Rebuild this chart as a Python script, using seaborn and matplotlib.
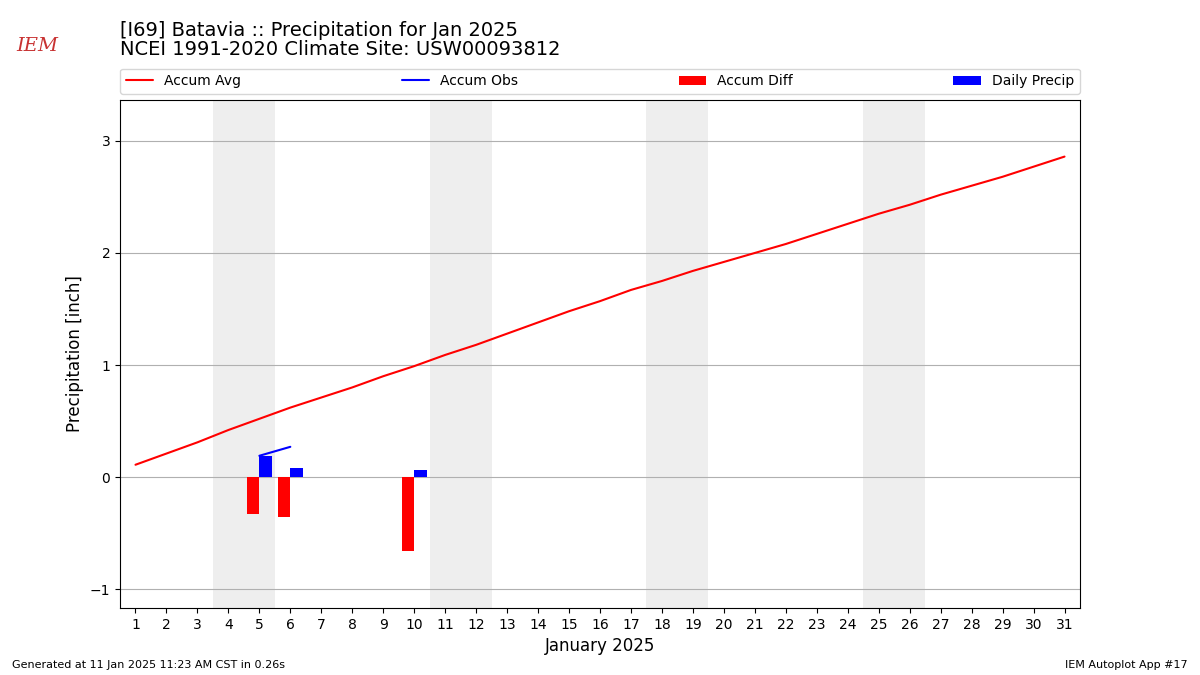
import numpy as np
import pandas as pd
import matplotlib
matplotlib.use("Agg")
import matplotlib.pyplot as plt
import seaborn as sns

# data
days = list(range(1, 32))
accum_avg = [0.11, 0.21, 0.31, 0.42, 0.52, 0.62, 0.71, 0.80, 0.90, 0.99,
             1.09, 1.18, 1.28, 1.38, 1.48, 1.57, 1.67, 1.75, 1.84, 1.92,
             2.00, 2.08, 2.17, 2.26, 2.35, 2.43, 2.52, 2.60, 2.68, 2.77, 2.86]
obs_days = [5, 6]
accum_obs = [0.19, 0.27]
diff_days = [5, 6, 10]
accum_diff = [-0.33, -0.36, -0.66]
precip_days = [5, 6, 10]
daily_precip = [0.19, 0.08, 0.06]
weekend_days = [4, 5, 11, 12, 18, 19, 25, 26]

sns.set_style("ticks")
plt.rcParams.update({"text.color": "black", "axes.labelcolor": "black",
                     "xtick.color": "black", "ytick.color": "black",
                     "patch.edgecolor": "none"})

fig = plt.figure(figsize=(12, 6.75), dpi=100)
ax = fig.add_axes([0.1, 0.099, 0.8, 0.753])

for d in weekend_days:
    ax.axvspan(d - 0.5, d + 0.5, color="#eeeeee", zorder=0, lw=0)

avg_df = pd.DataFrame({"day": days, "val": accum_avg})
obs_df = pd.DataFrame({"day": obs_days, "val": accum_obs})
sns.lineplot(data=avg_df, x="day", y="val", color="r", ax=ax, label="Accum Avg", zorder=3)
sns.lineplot(data=obs_df, x="day", y="val", color="b", ax=ax, label="Accum Obs", zorder=3)
ax.bar(diff_days, accum_diff, width=-0.4, align="edge", color="r", lw=0, label="Accum Diff", zorder=2)
ax.bar(precip_days, daily_precip, width=0.4, align="edge", color="b", lw=0, label="Daily Precip", zorder=2)

ax.set_xlim(0.5, 31.5)
ax.set_ylim(-1.17, 3.366)
ax.set_xticks(days)
ax.set_yticks([-1, 0, 1, 2, 3])
ax.yaxis.grid(True, color="#b0b0b0", lw=0.8)
ax.set_axisbelow(True)
for s in ax.spines.values():
    s.set_color("black")
ax.tick_params(axis="both", direction="out", length=3.5, color="black", labelsize=10)
ax.set_xlabel("January 2025", fontsize=12)
ax.set_ylabel("Precipitation [inch]", fontsize=12)

ax.legend(bbox_to_anchor=(0, 1.012, 1, 0.05), loc="lower left", ncol=4,
          mode="expand", borderaxespad=0, fontsize=10, frameon=True)

fig.text(0.1, 0.912, "[I69] Batavia :: Precipitation for Jan 2025\nNCEI 1991-2020 Climate Site: USW00093812",
         fontsize=14, ha="left", va="bottom", linespacing=1.0)
fig.text(0.031, 0.932, "IEM", color="#c83232", fontsize=14, family="serif",
         style="italic", ha="center", va="center")
fig.text(0.01, 0.01, "Generated at 11 Jan 2025 11:23 AM CST in 0.26s", fontsize=8)
fig.text(0.99, 0.01, "IEM Autoplot App #17", fontsize=8, ha="right")

fig.savefig("out.png", dpi=100)
